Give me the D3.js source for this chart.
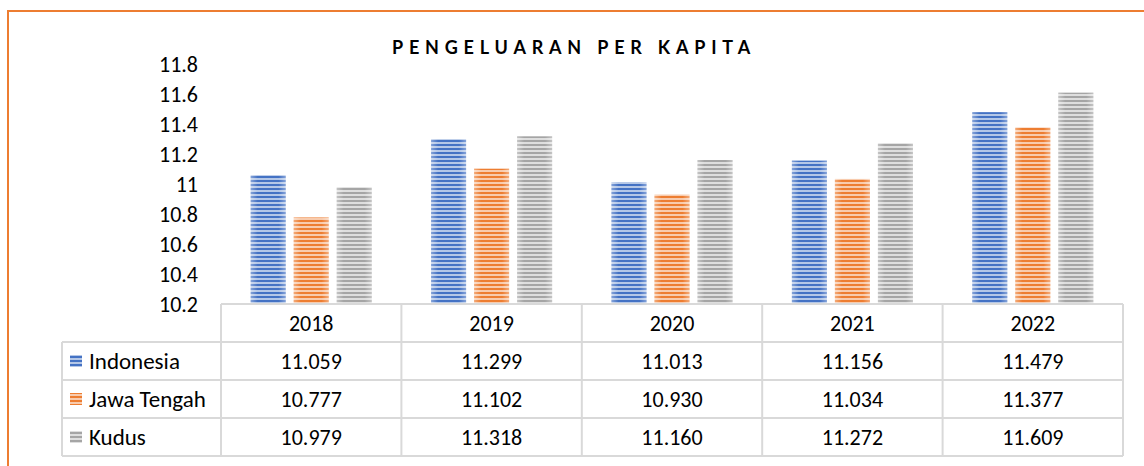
<!DOCTYPE html>
<html lang="en">
<head>
  <meta charset="UTF-8">
  <script src="https://d3js.org/d3.v7.min.js"></script>
  <title>Pengeluaran Per Kapita</title>
  <style>
    body {
      margin: 0;
      background: #fff;
      overflow: hidden;
      font-family: Carlito, Lato, "Noto Sans", sans-serif;
    }
  </style>
</head>
<body>
<script>
  // Data
  const years = ["2018", "2019", "2020", "2021", "2022"];
  const seriesNames = ["Indonesia", "Jawa Tengah", "Kudus"];
  const indonesia = [11.059, 11.299, 11.013, 11.156, 11.479];
  const jawaTengah = [10.777, 11.102, 10.930, 11.034, 11.377];
  const kudus = [10.979, 11.318, 11.160, 11.272, 11.609];
  const yTicks = [10.2, 10.4, 10.6, 10.8, 11, 11.2, 11.4, 11.6, 11.8];
  const yTickLabels = ["10.2", "10.4", "10.6", "10.8", "11", "11.2", "11.4", "11.6", "11.8"];

  const seriesValues = [indonesia, jawaTengah, kudus];
  const darkColors = ["#4472C4", "#ED7D31", "#A5A5A5"];
  const lightColors = ["#B4C7E7", "#F8CBAD", "#DEDEDE"];

  const width = 1144, height = 466;
  const svg = d3.select("body").append("svg")
    .attr("width", width)
    .attr("height", height);

  const defs = svg.append("defs");

  // striped fills
  seriesNames.forEach((s, i) => {
    const p = defs.append("pattern")
      .attr("id", "stripe" + i)
      .attr("patternUnits", "userSpaceOnUse")
      .attr("width", 4).attr("height", 4);
    p.append("rect").attr("width", 4).attr("height", 4).attr("fill", lightColors[i]);
    p.append("rect").attr("width", 4).attr("height", 2).attr("fill", darkColors[i]);
  });

  // soft shading at the bar edges
  const grad = defs.append("linearGradient").attr("id", "edgeShade")
    .attr("x1", "0%").attr("x2", "100%").attr("y1", "0%").attr("y2", "0%");
  grad.append("stop").attr("offset", "0%").attr("stop-color", "#fff").attr("stop-opacity", 0.35);
  grad.append("stop").attr("offset", "20%").attr("stop-color", "#fff").attr("stop-opacity", 0);
  grad.append("stop").attr("offset", "80%").attr("stop-color", "#fff").attr("stop-opacity", 0);
  grad.append("stop").attr("offset", "100%").attr("stop-color", "#fff").attr("stop-opacity", 0.35);

  // outer orange frame (runs off the right and bottom)
  svg.append("rect")
    .attr("x", 8).attr("y", 11)
    .attr("width", width + 20).attr("height", height + 20)
    .attr("fill", "none")
    .attr("stroke", "#ED7D31")
    .attr("stroke-width", 2);

  // title
  svg.append("text")
    .attr("x", 574).attr("y", 54)
    .attr("text-anchor", "middle")
    .attr("font-family", "Lato, 'Noto Sans', sans-serif")
    .attr("font-weight", "bold")
    .attr("font-size", 18)
    .attr("letter-spacing", "5.8px")
    .attr("fill", "#000")
    .text("PENGELUARAN PER KAPITA");

  // scales
  const x = d3.scaleBand().domain(years).range([221, 1123]).paddingInner(0).paddingOuter(0);
  const xInner = d3.scaleBand().domain(seriesNames).range([0, x.bandwidth()])
    .paddingInner(0.186).paddingOuter(0.69);
  const y = d3.scaleLinear().domain([10.2, 11.8]).range([304, 64]);

  const textFont = "Carlito, Lato, 'Noto Sans', sans-serif";

  // y axis (labels only)
  const yAxis = d3.axisLeft(y)
    .tickValues(yTicks)
    .tickFormat((d, i) => yTickLabels[i])
    .tickSize(0)
    .tickPadding(0);
  const yg = svg.append("g").attr("transform", "translate(198,0)").call(yAxis);
  yg.select(".domain").remove();
  yg.selectAll("text")
    .attr("font-family", textFont)
    .attr("font-size", 22)
    .attr("fill", "#000");

  // bars
  const bars = svg.append("g");
  seriesNames.forEach((s, i) => {
    const g = bars.append("g");
    g.selectAll("rect.bar")
      .data(years)
      .enter().append("rect")
      .attr("class", "bar")
      .attr("x", (d) => x(d) + xInner(s))
      .attr("y", (d, j) => y(seriesValues[i][j]))
      .attr("width", xInner.bandwidth())
      .attr("height", (d, j) => y(10.2) - y(seriesValues[i][j]))
      .attr("fill", "url(#stripe" + i + ")");
    g.selectAll("rect.shade")
      .data(years)
      .enter().append("rect")
      .attr("class", "shade")
      .attr("x", (d) => x(d) + xInner(s))
      .attr("y", (d, j) => y(seriesValues[i][j]))
      .attr("width", xInner.bandwidth())
      .attr("height", (d, j) => y(10.2) - y(seriesValues[i][j]))
      .attr("fill", "url(#edgeShade)");
  });

  // data table under the plot
  const tableLeft = 62, tableRight = 1123;
  const headerTop = y(10.2), rowH = 38;
  const rowTop = (r) => headerTop + rowH * (r + 1);
  const gridColor = "#D9D9D9";
  const table = svg.append("g");

  // horizontal lines
  table.append("line")
    .attr("x1", x(years[0])).attr("x2", tableRight)
    .attr("y1", headerTop).attr("y2", headerTop)
    .attr("stroke", gridColor).attr("stroke-width", 2);
  for (let r = 0; r <= seriesNames.length; r++) {
    table.append("line")
      .attr("x1", tableLeft).attr("x2", tableRight)
      .attr("y1", rowTop(r)).attr("y2", rowTop(r))
      .attr("stroke", gridColor).attr("stroke-width", 2);
  }
  // vertical lines
  years.concat(["end"]).forEach((yr) => {
    const xx = yr === "end" ? tableRight : x(yr);
    table.append("line")
      .attr("x1", xx).attr("x2", xx)
      .attr("y1", headerTop).attr("y2", rowTop(seriesNames.length))
      .attr("stroke", gridColor).attr("stroke-width", 2);
  });
  table.append("line")
    .attr("x1", tableLeft).attr("x2", tableLeft)
    .attr("y1", rowTop(0)).attr("y2", rowTop(seriesNames.length))
    .attr("stroke", gridColor).attr("stroke-width", 2);

  // year headers
  table.selectAll("text.year")
    .data(years)
    .enter().append("text")
    .attr("class", "year")
    .attr("x", (d) => x(d) + x.bandwidth() / 2)
    .attr("y", headerTop + rowH / 2)
    .attr("dy", "0.35em")
    .attr("text-anchor", "middle")
    .attr("font-family", textFont)
    .attr("font-size", 22)
    .text((d) => d);

  // rows
  seriesNames.forEach((s, i) => {
    const cy = rowTop(i) + rowH / 2;
    table.append("rect")
      .attr("x", 70).attr("y", cy - 6)
      .attr("width", 12).attr("height", 12)
      .attr("fill", "url(#stripe" + i + ")");
    table.append("text")
      .attr("x", 89).attr("y", cy)
      .attr("dy", "0.35em")
      .attr("font-family", textFont)
      .attr("font-size", 23)
      .text(s);
    table.selectAll("text.v" + i)
      .data(years)
      .enter().append("text")
      .attr("class", "v" + i)
      .attr("x", (d) => x(d) + x.bandwidth() / 2)
      .attr("y", cy)
      .attr("dy", "0.35em")
      .attr("text-anchor", "middle")
      .attr("font-family", textFont)
      .attr("font-size", 22)
      .text((d, j) => d3.format(".3f")(seriesValues[i][j]));
  });
</script>
</body>
</html>
